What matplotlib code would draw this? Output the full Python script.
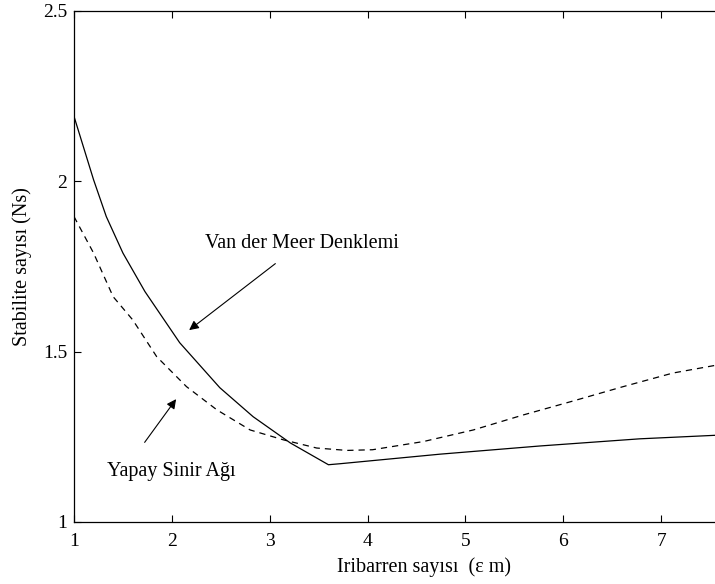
import matplotlib.pyplot as plt

# Van der Meer denklemi (duz cizgi)
x_vdm = [1.0, 1.2, 1.33, 1.5, 1.725, 2.08, 2.49, 2.83, 3.21, 3.6,
         3.72, 4.74, 5.76, 6.78, 7.6]
y_vdm = [2.19, 2.004, 1.896, 1.789, 1.676, 1.526, 1.394, 1.309, 1.232, 1.168,
         1.171, 1.199, 1.223, 1.244, 1.255]

# Yapay Sinir Agi (kesikli cizgi)
x_ysa = [1.0, 1.2, 1.4, 1.6, 1.845, 2.15, 2.46, 2.8, 3.14, 3.48, 3.79,
         4.05, 4.57, 5.08, 5.59, 6.1, 6.61, 7.12, 7.6]
y_ysa = [1.896, 1.789, 1.661, 1.593, 1.485, 1.397, 1.329, 1.27, 1.241, 1.217, 1.21,
         1.212, 1.236, 1.27, 1.314, 1.355, 1.397, 1.437, 1.462]

x_ticks = [1, 2, 3, 4, 5, 6, 7]
y_ticks = [1, 1.5, 2, 2.5]
y_ticklabels = ['1', '1.5', '2', '2.5']

plt.rcParams['font.family'] = ['Liberation Serif', 'DejaVu Serif']

fig = plt.figure(figsize=(7.15, 5.84), dpi=100)
ax = fig.add_axes([74 / 715, 1 - 522 / 584, 1 - 74 / 715, (522 - 10.7) / 584])

ax.plot(x_vdm, y_vdm, color='black', lw=0.9)
ax.plot(x_ysa, y_ysa, color='black', lw=0.9, dashes=(5, 4))

ax.set_xlim(1, 7.55)
ax.set_ylim(1, 2.5)
ax.set_xticks(x_ticks)
ax.set_yticks(y_ticks)
ax.set_yticklabels(y_ticklabels)
ax.tick_params(direction='in', length=5, width=0.8, labelsize=14, top=True,
               right=False)
ax.tick_params(axis='x', pad=8)
ax.tick_params(axis='y', pad=5)
ax.spines['right'].set_visible(False)
for s in ['left', 'top', 'bottom']:
    ax.spines[s].set_linewidth(0.9)

ax.set_xlabel('Iribarren sayısı  (ε m)', fontsize=14.5)
ax.xaxis.set_label_coords(0.546, -0.068)
ax.set_ylabel('Stabilite sayısı (Ns)', fontsize=14.5)
ax.yaxis.set_label_coords(-0.066, 0.5)

ax.annotate('', xy=(2.154, 1.558), xytext=(3.08, 1.763),
            arrowprops=dict(arrowstyle='-|>', color='black', lw=0.8,
                            mutation_scale=14))
ax.text(2.34, 1.816, 'Van der Meer Denklemi', fontsize=14.5, va='center')

ax.annotate('', xy=(2.06, 1.367), xytext=(1.705, 1.227),
            arrowprops=dict(arrowstyle='-|>', color='black', lw=0.8,
                            mutation_scale=14))
ax.text(1.34, 1.147, 'Yapay Sinir Ağı', fontsize=14.5, va='center')

fig.savefig('out.png', dpi=100)
